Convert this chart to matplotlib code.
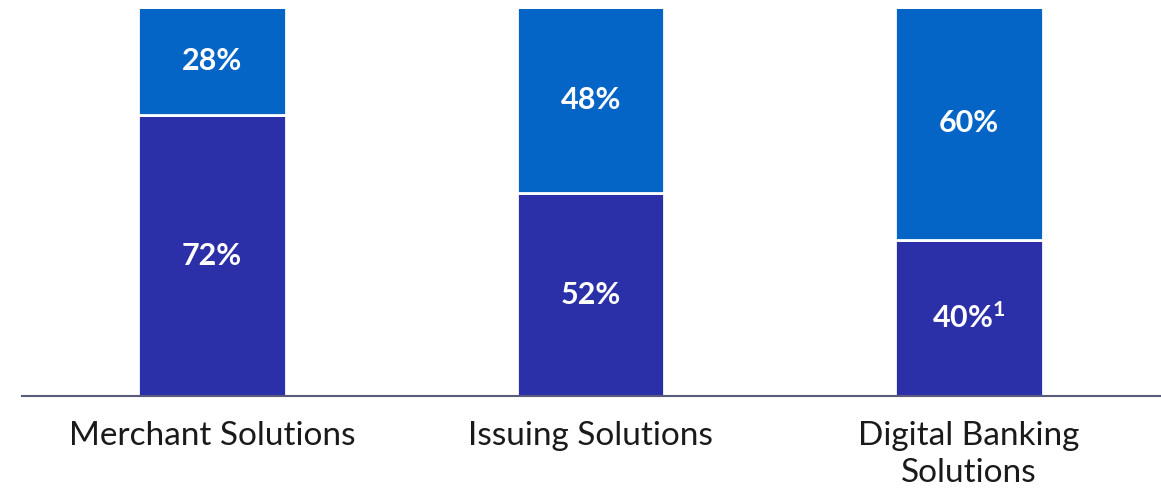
import matplotlib.pyplot as plt

# share of revenue per segment
segments = ["Merchant Solutions", "Issuing Solutions", "Digital Banking\nSolutions"]
bottom_share = [72, 52, 40]
top_share = [28, 48, 60]
bottom_labels = ["72%", "52%", r"$\mathbf{40\%^{1}}$"]
top_labels = ["28%", "48%", "60%"]

dark_blue = "#2B2FA8"
light_blue = "#0565C6"

plt.rcParams['font.family'] = ['Lato', 'DejaVu Sans']
plt.rcParams['mathtext.fontset'] = 'custom'
plt.rcParams['mathtext.rm'] = 'Lato'
plt.rcParams['mathtext.bf'] = 'Lato:bold'

fig = plt.figure(figsize=(11.61, 4.9), dpi=100)
ax = fig.add_axes([22 / 1161, 94 / 490, 1139 / 1161, 387 / 490])

x = range(len(segments))
width = 0.39
ax.bar(x, bottom_share, width, color=dark_blue, edgecolor="white", linewidth=2)
ax.bar(x, top_share, width, bottom=bottom_share, color=light_blue,
       edgecolor="white", linewidth=2)

for i in x:
    ax.text(i, bottom_share[i] / 2, bottom_labels[i], ha="center", va="center",
            color="white", fontsize=22, fontweight="bold")
    ax.text(i, bottom_share[i] + top_share[i] / 2, top_labels[i], ha="center",
            va="center", color="white", fontsize=22, fontweight="bold")

ax.set_xlim(-0.502, 2.507)
ax.set_ylim(0, 99.3)
ax.set_xticks(list(x))
ax.set_xticklabels(segments, fontsize=24, color="#1a1a1a", linespacing=1.3)
ax.tick_params(axis="x", length=0, pad=18)
ax.set_yticks([])
for s in ["top", "left", "right"]:
    ax.spines[s].set_visible(False)
ax.spines["bottom"].set_color("#5a5a7a")
ax.spines["bottom"].set_linewidth(1.5)
ax.spines["bottom"].set_zorder(3)

fig.savefig("out.png", dpi=100)
